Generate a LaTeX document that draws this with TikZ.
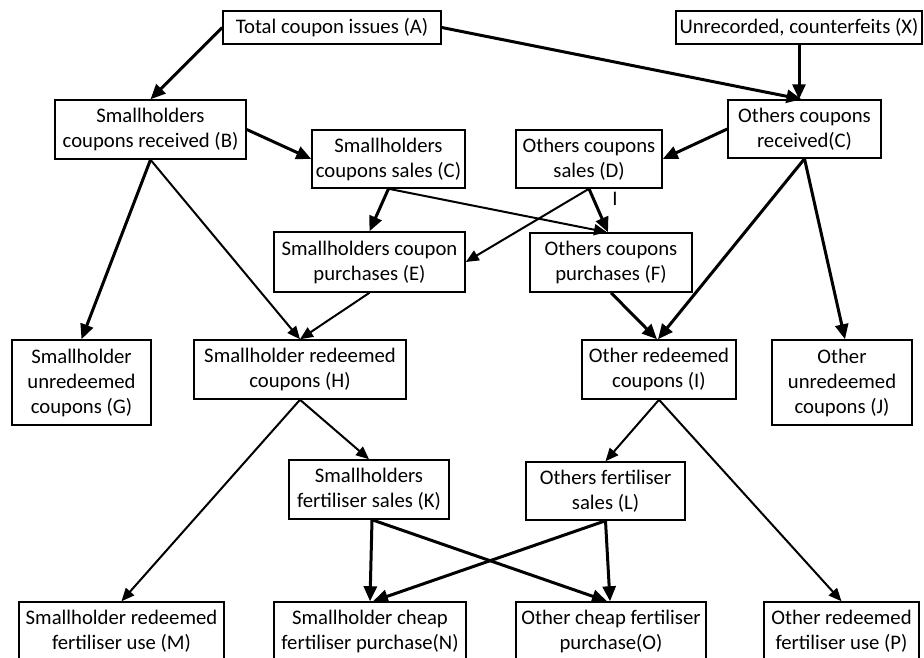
\documentclass[tikz,border=0pt]{standalone}
\usepackage{fontspec}
\setmainfont{Carlito}
\usetikzlibrary{arrows.meta}
\begin{document}
\begin{tikzpicture}[x=1pt,y=-1pt,
 box/.style={draw, line width=1.5pt, inner sep=0pt, align=center, font=\fontsize{20.7}{25}\selectfont},
 thk/.style={line width=3pt, -{Triangle[length=15pt,width=13pt]}},
 thn/.style={line width=2pt, -{Triangle[length=13pt,width=11pt]}}]
\useasboundingbox (0,0) rectangle (924,657);
\clip (0,0) rectangle (924,657);
% nodes
\node[box, minimum width=218pt, minimum height=33pt] (A) at (332,27.5) {Total coupon issues (A)};
\node[box, minimum width=246pt, minimum height=33pt] (X) at (799,27.5) {Unrecorded, counterfeits (X)};
\node[box, minimum width=191pt, minimum height=59pt] (B) at (150.5,129.5) {Smallholders\\coupons received (B)};
\node[box, minimum width=153pt, minimum height=58pt] (C) at (388.5,159) {Smallholders\\coupons sales (C)};
\node[box, minimum width=153pt, minimum height=58pt] (Cp) at (804.5,129) {Others coupons\\received(C)};
\node[box, minimum width=146pt, minimum height=58pt] (D) at (589,159) {Others coupons\\sales (D)};
\node[box, minimum width=191pt, minimum height=60pt] (E) at (369.5,262) {Smallholders coupon\\purchases (E)};
\node[box, minimum width=162pt, minimum height=59pt] (F) at (611,262.5) {Others coupons\\purchases (F)};
\node[box, minimum width=139pt, minimum height=85pt] (G) at (81.5,382.5) {Smallholder\\unredeemed\\coupons (G)};
\node[box, minimum width=212pt, minimum height=59pt] (H) at (300,369.5) {Smallholder redeemed\\coupons (H)};
\node[box, minimum width=154pt, minimum height=59pt] (I) at (659,369.5) {Other redeemed\\coupons (I)};
\node[box, minimum width=140pt, minimum height=85pt] (J) at (842,382.5) {Other\\unredeemed\\coupons (J)};
\node[box, minimum width=160pt, minimum height=59pt] (K) at (369,489.5) {Smallholders\\fertiliser sales (K)};
\node[box, minimum width=159pt, minimum height=58pt] (L) at (605.5,491) {Others fertiliser\\sales (L)};
\node[box, minimum width=205pt, minimum height=59pt] (M) at (121.5,631.5) {Smallholder redeemed\\fertiliser use (M)};
\node[box, minimum width=192pt, minimum height=59pt] (N) at (370,631.5) {Smallholder cheap\\fertiliser purchase(N)};
\node[box, minimum width=190pt, minimum height=59pt] (O) at (611,631.5) {Other cheap fertiliser\\purchase(O)};
\node[box, minimum width=155pt, minimum height=59pt] (P) at (841.5,631.5) {Other redeemed\\fertiliser use (P)};
\node[font=\fontsize{20.7}{25}\selectfont, inner sep=0pt] (mark) at (615,199) {I};
% connectors
\draw[thk] (A.west) -- (B.north);
\draw[thk] (A.east) -- ([xshift=-3pt]Cp.north);
\draw[thk] (X.south) -- (X.south |- Cp.north);
\draw[thk] (B.east) -- (C.west);
\draw[thk] (Cp.west) -- (D.east);
\draw[thk] (B.south) -- (G.north);
\draw[thn] (B.south) -- (H.north);
\draw[thk] (C.south) -- (E.north);
\draw[thn] (C.south) -- ([xshift=-4pt]F.north);
\draw[thn] (D.south) -- (E.east);
\draw[thk] (D.south) -- ([xshift=-3pt]F.north);
\draw[thn] (E.south) -- (H.north);
\draw[thk] (F.south) -- ([xshift=-2pt]I.north);
\draw[thk] (Cp.south) -- ([xshift=-1pt]I.north);
\draw[thk] (Cp.south) -- ([xshift=3pt]J.north);
\draw[thn] (H.south) -- (K.north);
\draw[thn] (H.south) -- (M.north);
\draw[thn] (I.south) -- (L.north);
\draw[thn] (I.south) -- (P.north);
\draw[thk] ([xshift=3pt]K.south) -- (N.north);
\draw[thk] ([xshift=3pt]K.south) -- ([xshift=-4pt]O.north);
\draw[thk] (L.south) -- ([xshift=3pt]N.north);
\draw[thk] (L.south) -- ([xshift=-1pt]O.north);
\end{tikzpicture}
\end{document}
